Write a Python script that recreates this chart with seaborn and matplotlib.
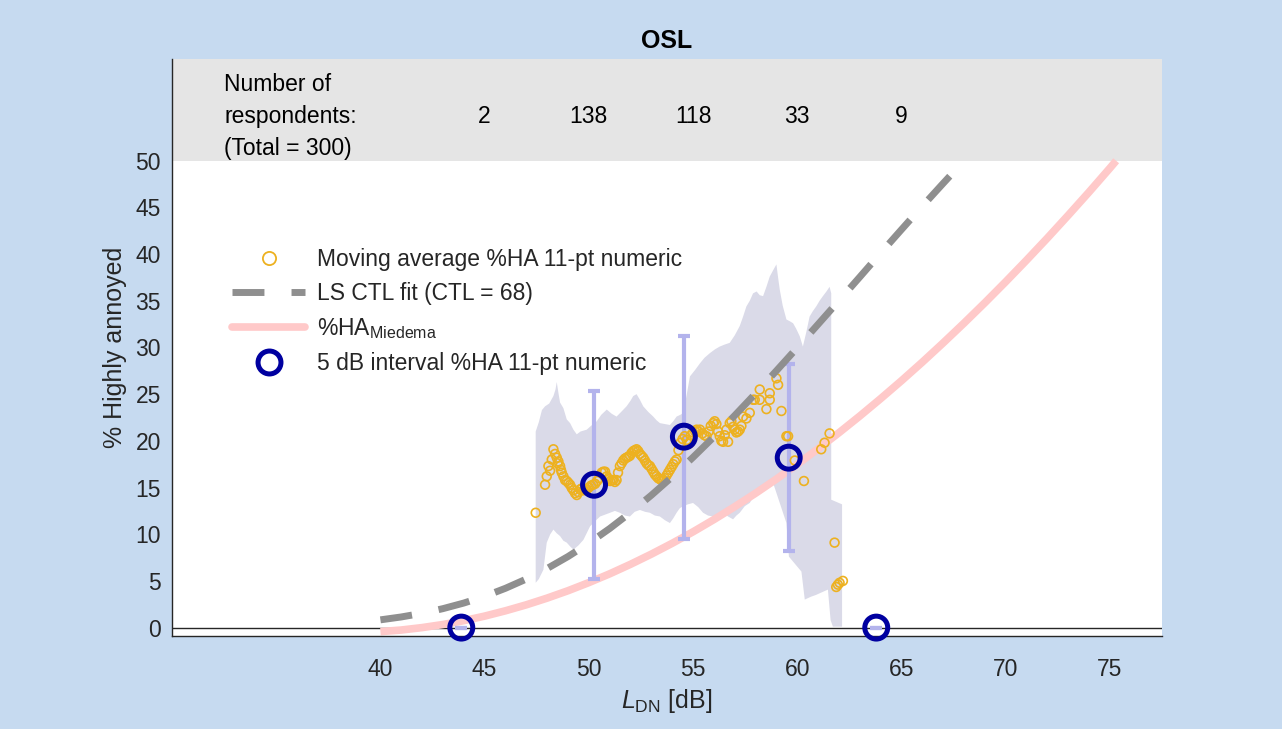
import matplotlib
matplotlib.use("Agg")
import numpy as np
import matplotlib.pyplot as plt
import seaborn as sns
from matplotlib.lines import Line2D

# ---------------- data ----------------
ma_x = [47.45, 47.90, 47.98, 48.06, 48.14, 48.22, 48.30, 48.38, 48.46, 48.50,
        48.54, 48.62, 48.66, 48.70, 48.78, 48.86, 48.94, 49.02, 49.10, 49.18,
        49.26, 49.34, 49.42, 49.50, 49.58, 49.66, 49.74, 49.82, 49.90, 50.00,
        50.10, 50.20, 50.30, 50.40, 50.50, 50.62, 50.70, 50.78, 50.86, 50.94,
        51.02, 51.10, 51.17, 51.25, 51.33, 51.40, 51.49, 51.57, 51.65, 51.73,
        51.81, 51.89, 51.97, 52.05, 52.13, 52.21, 52.29, 52.37, 52.45, 52.53,
        52.61, 52.69, 52.77, 52.85, 52.93, 53.01, 53.09, 53.17, 53.25, 53.33,
        53.41, 53.49, 53.57, 53.65, 53.73, 53.81, 53.89, 53.97, 54.05, 54.13,
        54.21, 54.30, 54.40, 54.50, 54.60, 54.70, 54.80, 54.90, 55.00, 55.10,
        55.17, 55.25, 55.33, 55.45, 55.55, 55.65, 55.75, 55.85, 55.97, 56.04,
        56.12, 56.20, 56.28, 56.36, 56.44, 56.52, 56.60, 56.68, 56.76, 56.84,
        56.92, 57.00, 57.08, 57.16, 57.24, 57.32, 57.40, 57.56, 57.72, 57.88,
        57.96, 58.20, 58.20, 58.52, 58.68, 58.68, 59.00, 59.08, 59.24, 59.48,
        59.56, 59.88, 60.32, 61.15, 61.31, 61.55, 61.79, 61.87, 61.95, 62.03,
        62.19]
ma_y = [12.3, 15.3, 16.2, 17.3, 16.8, 18.0, 19.1, 18.6, 18.2, 17.6,
        17.8, 17.3, 16.9, 16.6, 16.2, 15.8, 15.7, 15.5, 15.3, 14.95,
        14.7, 14.4, 14.2, 14.5, 14.8, 14.9, 14.7, 14.8, 14.8, 15.0,
        15.2, 15.3, 15.4, 15.7, 16.0, 16.6, 16.7, 16.7, 16.2, 15.9,
        15.7, 15.8, 15.8, 15.6, 15.8, 16.6, 17.3, 17.6, 17.9, 18.1,
        18.2, 18.3, 18.4, 18.7, 18.9, 19.0, 19.1, 18.9, 18.6, 18.4,
        18.2, 17.9, 17.6, 17.4, 17.3, 17.0, 16.7, 16.4, 16.2, 16.0,
        15.9, 15.8, 15.8, 16.0, 16.3, 16.6, 16.9, 17.2, 17.5, 17.8,
        18.0, 19.0, 19.8, 20.2, 20.5, 20.1, 19.7, 20.6, 20.9, 21.0,
        21.2, 21.0, 21.2, 20.8, 20.6, 20.5, 21.0, 21.6, 21.9, 22.1,
        21.8, 21.0, 20.5, 20.0, 19.9, 20.6, 21.2, 19.9, 21.9, 22.1,
        21.5, 21.2, 20.9, 21.0, 21.2, 21.6, 22.6, 22.4, 23.0, 24.4,
        24.4, 24.4, 25.5, 23.4, 24.4, 25.1, 26.7, 26.0, 23.2, 20.5,
        20.5, 17.9, 15.7, 19.1, 19.8, 20.8, 9.1, 4.35, 4.6, 4.8,
        5.0]

band_upper_x = [47.45, 47.60, 47.75, 47.90, 48.10, 48.30, 48.40, 48.46, 48.55, 48.62,
                48.78, 48.94, 49.10, 49.26, 49.42, 49.60, 49.90, 50.10, 50.38, 50.60,
                50.86, 51.10, 51.33, 51.55, 51.81, 52.00, 52.13, 52.29, 52.45, 52.61,
                52.85, 53.09, 53.25, 53.41, 53.65, 53.89, 54.05, 54.21, 54.40, 54.53,
                54.70, 54.85, 55.10, 55.33, 55.55, 55.81, 56.05, 56.28, 56.50, 56.76,
                57.00, 57.24, 57.40, 57.56, 57.72, 57.88, 58.05, 58.20, 58.36, 58.52,
                58.68, 58.85, 59.00, 59.08, 59.16, 59.30, 59.48, 59.65, 59.80, 59.95,
                60.12, 60.27, 60.45, 60.59, 60.75, 60.91, 61.07, 61.23, 61.40, 61.55,
                61.63, 61.63, 62.15, 62.15]
band_upper_y = [21.0, 22.0, 23.3, 23.7, 24.0, 24.8, 25.5, 26.3, 25.0, 24.1,
                23.5, 22.3, 21.9, 21.2, 20.7, 21.0, 21.2, 21.6, 22.1, 22.8,
                23.35, 22.9, 22.6, 23.1, 23.7, 24.3, 24.8, 25.0, 24.4, 23.7,
                23.1, 22.6, 22.2, 21.9, 21.8, 21.7, 22.1, 22.6, 22.8, 23.0,
                25.0, 26.9, 27.6, 28.3, 28.9, 29.4, 29.8, 30.1, 30.3, 30.5,
                31.3, 32.3, 33.3, 34.4, 35.0, 35.8, 36.0, 35.6, 35.5, 36.5,
                37.6, 38.3, 38.9, 37.5, 36.2, 34.5, 33.0, 32.8, 32.6, 32.0,
                31.2, 30.1, 31.8, 33.3, 33.9, 34.4, 35.0, 35.5, 36.0, 36.5,
                35.8, 13.7, 13.2, 0.1]
band_lower_x = [47.45, 47.60, 47.82, 47.98, 48.15, 48.30, 48.46, 48.62, 48.78, 48.94,
                49.10, 49.26, 49.50, 49.74, 50.06, 50.30, 50.54, 50.78, 51.02, 51.25,
                51.49, 51.73, 51.97, 52.20, 52.45, 52.70, 52.93, 53.17, 53.41, 53.65,
                53.89, 54.05, 54.21, 54.37, 54.53, 54.75, 55.00, 55.25, 55.48, 55.72,
                55.96, 56.20, 56.44, 56.68, 56.92, 57.08, 57.24, 57.48, 57.72, 57.90,
                58.04, 58.20, 58.36, 58.60, 58.84, 59.16, 59.48, 59.60, 59.90, 60.20,
                60.36, 60.65, 60.90, 61.20, 61.47, 61.60, 61.71]
band_lower_y = [4.8, 5.2, 6.2, 9.1, 10.0, 10.5, 10.1, 9.8, 9.3, 9.1,
                8.7, 8.35, 8.8, 9.4, 10.85, 11.4, 11.9, 12.1, 12.3, 12.5,
                12.3, 12.0, 11.9, 12.4, 12.6, 12.4, 12.3, 12.0, 11.9, 11.5,
                11.2, 11.7, 12.3, 12.8, 13.0, 13.2, 13.35, 12.9, 12.3, 12.0,
                11.9, 12.2, 12.3, 11.9, 11.6, 12.0, 12.3, 13.0, 13.35, 14.0,
                14.5, 14.5, 14.8, 15.2, 15.5, 13.35, 11.2, 7.6, 6.8, 6.0,
                3.0, 3.3, 3.5, 3.8, 4.07, 0.8, 0.1]

ctl_x = [40, 41, 42, 43, 44, 45, 46, 47, 48, 49, 50, 51, 52, 53, 54, 55, 56, 57,
         58, 59, 60, 61, 62, 63, 64, 65, 66, 67, 68]
ctl_y = [0.83, 1.14, 1.53, 2.03, 2.63, 3.35, 4.21, 5.20, 6.33, 7.61, 9.04, 10.61,
         12.33, 14.18, 16.15, 18.24, 20.43, 22.72, 25.08, 27.51, 29.98, 32.49,
         35.01, 37.55, 40.11, 42.63, 45.13, 47.58, 50.0]

miedema_x = [40, 41, 42, 43, 44, 45, 46, 47, 48, 49, 50, 51, 52, 53, 54, 55, 56,
             57, 58, 59, 60, 61, 62, 63, 64, 65, 66, 67, 68, 69, 70, 71, 72, 73,
             74, 75, 75.3]
miedema_y = [-0.43, -0.26, 0.0, 0.33, 0.74, 1.23, 1.80, 2.44, 3.16, 3.95, 4.82,
             5.76, 6.78, 7.87, 9.03, 10.26, 11.57, 12.95, 14.39, 15.91, 17.49,
             19.15, 20.87, 22.66, 24.52, 26.44, 28.43, 30.49, 32.61, 34.79, 37.04,
             39.35, 41.72, 44.16, 46.65, 49.21, 50.0]

int_x = [43.88, 50.25, 54.56, 59.59, 63.79]
int_y = [0.0, 15.3, 20.45, 18.2, 0.0]
int_lo = [0.0, 5.2, 9.5, 8.2, 0.0]
int_hi = [0.0, 25.3, 31.2, 28.2, 0.0]

count_x = [45, 50, 55, 60, 65]
count_n = [2, 138, 118, 33, 9]

x_ticks = [40, 45, 50, 55, 60, 65, 70, 75]
y_ticks = [0, 5, 10, 15, 20, 25, 30, 35, 40, 45, 50]

# ---------------- style ----------------
sns.set_theme(style="white")
plt.rcParams['font.family'] = ['Liberation Sans', 'DejaVu Sans']
plt.rcParams['mathtext.fontset'] = 'custom'
plt.rcParams['mathtext.rm'] = 'Liberation Sans'
plt.rcParams['mathtext.it'] = 'Liberation Sans:italic'
plt.rcParams['mathtext.bf'] = 'Liberation Sans:bold'

BG = '#c6daf0'
DARK = '#262626'
ORANGE = '#EDB120'
GRAYD = '#8f8f8f'
PINK = '#ffc9c9'
NAVY = '#0000a0'
LAV = '#b3b3ec'
SHADE = '#dadae8'

W, H = 1282, 729
fig = plt.figure(figsize=(W / 100, H / 100), dpi=100, facecolor=BG)
ax = fig.add_axes([172 / W, 1 - 636 / H, 990 / W, 577 / H])
ax.set_facecolor('white')
YTOP = 60.9
ax.set_xlim(30, 77.5)
ax.set_ylim(-0.9, YTOP)

ax.axhspan(50, YTOP, color='#e5e5e5', lw=0, zorder=0)
ax.axhline(0, color=DARK, lw=1.0, zorder=1)

poly_x = band_upper_x + band_lower_x[::-1]
poly_y = band_upper_y + band_lower_y[::-1]
ax.fill(poly_x, poly_y, color=SHADE, lw=0, zorder=1.5)

sns.lineplot(x=miedema_x, y=miedema_y, ax=ax, color=PINK, lw=5.5, sort=False,
             zorder=2, solid_capstyle='butt')

ax.errorbar(int_x, int_y,
            yerr=[np.array(int_y) - np.array(int_lo), np.array(int_hi) - np.array(int_y)],
            fmt='none', ecolor=LAV, elinewidth=3, capsize=4, capthick=3, zorder=3)

sns.scatterplot(x=ma_x, y=ma_y, ax=ax, marker='o', s=40, facecolors='none',
                edgecolor=ORANGE, linewidth=1.2, zorder=4)

sns.lineplot(x=ctl_x, y=ctl_y, ax=ax, color=GRAYD, lw=5, sort=False,
             linestyle=(0, (4.6, 3.9)), zorder=5)

sns.scatterplot(x=int_x, y=int_y, ax=ax, marker='o', s=16.5 ** 2, facecolors='none',
                edgecolor=NAVY, linewidth=3.6, zorder=6, clip_on=False)

# ---------------- axes ----------------
ax.set_xticks(x_ticks)
ax.set_yticks(y_ticks)
ax.tick_params(axis='both', direction='in', length=5.8, width=1, colors=DARK,
               labelsize=16.5, labelcolor=DARK)
ax.tick_params(axis='x', pad=15.5)
ax.tick_params(axis='y', pad=8)
for s in ['top', 'right']:
    ax.spines[s].set_visible(False)
for s in ['left', 'bottom']:
    ax.spines[s].set_color(DARK)
    ax.spines[s].set_linewidth(1)

ax.set_ylabel('% Highly annoyed', fontsize=18, color=DARK, labelpad=6)
ax.set_xlabel(r'$L_\mathregular{DN}$ [dB]', fontsize=18, color=DARK, labelpad=5)
ax.set_title('OSL', fontsize=18, fontweight='bold', color='black', pad=8)

# respondents row
ax.text(32.5, 54.7, 'Number of\nrespondents:\n(Total = 300)', ha='left', va='center',
        fontsize=16.5, color='black', linespacing=1.5)
for cx, n in zip(count_x, count_n):
    ax.text(cx, 54.7, str(n), ha='center', va='center', fontsize=16.5, color='black')

# legend
handles = [
    Line2D([], [], ls='none', marker='o', ms=9.5, mfc='none', mec=ORANGE, mew=1.3),
    Line2D([], [], color=GRAYD, lw=5, ls=(0, (4.6, 3.9))),
    Line2D([], [], color=PINK, lw=5.5),
    Line2D([], [], ls='none', marker='o', ms=16.5, mfc='none', mec=NAVY, mew=3.6),
]
labels = ['Moving average %HA 11-pt numeric', 'LS CTL fit (CTL = 68)',
          r'%HA$_\mathregular{Miedema}$', '5 dB interval %HA 11-pt numeric']
ax.legend(handles, labels, loc='upper left', bbox_to_anchor=(0.0606, 0.672),
          frameon=False, fontsize=16.5, handlelength=3.2, handletextpad=0.5,
          labelspacing=0.48, borderpad=0, borderaxespad=0)

fig.savefig('out.png', dpi=100, facecolor=BG)
